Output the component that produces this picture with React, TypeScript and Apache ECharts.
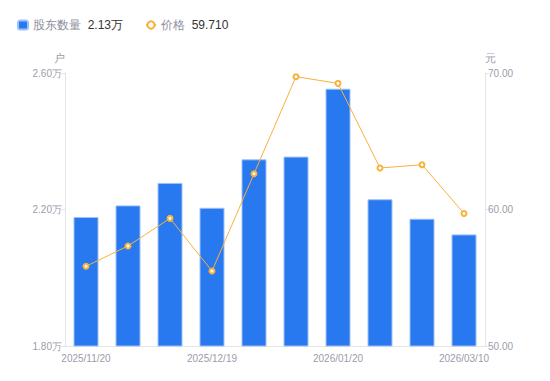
import React, { useEffect, useRef } from "react";
import * as echarts from "echarts";

const categories = [
  "2025/11/20",
  "2025/11/28",
  "2025/12/10",
  "2025/12/19",
  "2025/12/31",
  "2026/01/09",
  "2026/01/20",
  "2026/02/10",
  "2026/02/27",
  "2026/03/10",
];
const holders = [2.178, 2.212, 2.278, 2.205, 2.347, 2.355, 2.554, 2.23, 2.173, 2.127];
const prices = [55.84, 57.33, 59.35, 55.49, 62.62, 69.73, 69.24, 63.04, 63.28, 59.71];

const BLUE = "#2878f0";
const ORANGE = "#f7b23b";
const LABEL = "#9c9cab";

export default function App() {
  const ref = useRef<HTMLDivElement>(null);
  useEffect(() => {
    if (!ref.current) return;
    const chart = echarts.init(ref.current, undefined, { renderer: "svg" });
    const holderLatest = holders[holders.length - 1].toFixed(2) + "万";
    const priceLatest = prices[prices.length - 1].toFixed(3);
    chart.setOption({
      animation: false,
      legend: {
        left: 12,
        top: 14,
        itemWidth: 10,
        itemHeight: 9,
        itemGap: 22,
        data: [
          { name: "股东数量", icon: "roundRect" },
          { name: "价格" },
        ],
        formatter: (name: string) =>
          `{a|${name}}  {b|${name === "股东数量" ? holderLatest : priceLatest}}`,
        textStyle: {
          rich: {
            a: { color: "#8e8e9c", fontSize: 12 },
            b: { color: "#333333", fontSize: 12 },
          },
        },
      },
      grid: { left: 65, right: 65, top: 73, bottom: 35 },
      xAxis: {
        type: "category",
        data: categories,
        boundaryGap: true,
        axisLine: { lineStyle: { color: "#e4e4e8" } },
        axisTick: { show: false },
        axisLabel: { interval: 2, color: LABEL, fontSize: 10, margin: 7 },
      },
      yAxis: [
        {
          type: "value",
          min: 1.8,
          max: 2.6,
          interval: 0.4,
          name: "户",
          nameGap: 10,
          nameTextStyle: { color: LABEL, fontSize: 11, align: "right" },
          axisLine: { show: true, lineStyle: { color: "#e4e4e8" } },
          axisTick: { show: true, length: 4, lineStyle: { color: "#e4e4e8" } },
          splitLine: { show: false },
          axisLabel: {
            color: LABEL,
            fontSize: 10,
            margin: 3,
            formatter: (v: number) => v.toFixed(2) + "万",
          },
        },
        {
          type: "value",
          min: 50,
          max: 70,
          interval: 10,
          name: "元",
          nameGap: 10,
          nameTextStyle: { color: LABEL, fontSize: 11, align: "left" },
          axisLine: { show: true, lineStyle: { color: "#e4e4e8" } },
          axisTick: { show: true, length: 4, lineStyle: { color: "#e4e4e8" } },
          splitLine: { show: false },
          axisLabel: {
            color: LABEL,
            fontSize: 10,
            margin: 3,
            formatter: (v: number) => v.toFixed(2),
          },
        },
      ],
      series: [
        {
          name: "股东数量",
          type: "bar",
          yAxisIndex: 0,
          data: holders,
          barWidth: 25,
          itemStyle: { color: BLUE, borderColor: "#9cc0f8", borderWidth: 1 },
        },
        {
          name: "价格",
          type: "line",
          yAxisIndex: 1,
          data: prices,
          symbol: "emptyCircle",
          symbolSize: 5,
          lineStyle: { color: ORANGE, width: 1 },
          itemStyle: { color: ORANGE, borderWidth: 1.5 },
        },
      ],
    });
    return () => chart.dispose();
  }, []);
  return (
    <div
      ref={ref}
      style={{ position: "absolute", left: 0, top: 0, width: 550, height: 381 }}
    />
  );
}
